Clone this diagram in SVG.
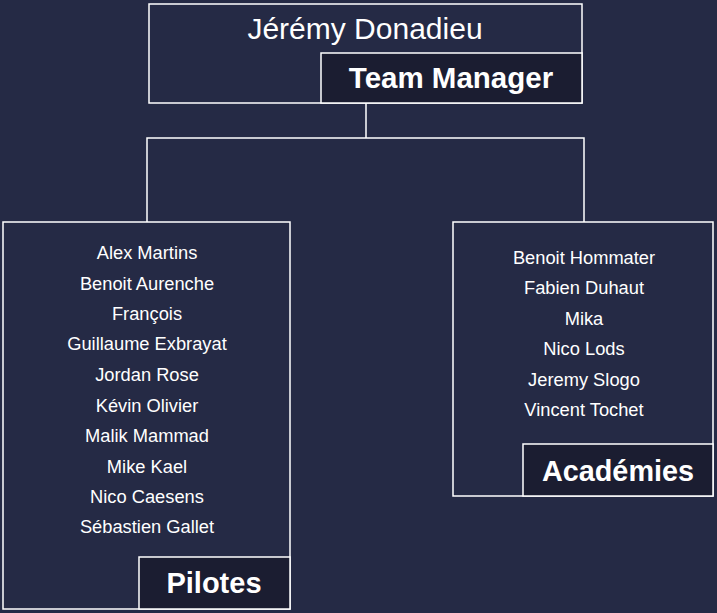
<svg xmlns="http://www.w3.org/2000/svg" width="717" height="613" viewBox="0 0 717 613">
<style>
.box{fill:#252a45;stroke:#ffffff;stroke-width:1.5}
.lab{fill:#1b1d31;stroke:#ffffff;stroke-width:1.5}
.conn{fill:none;stroke:#ffffff;stroke-width:1.5}
.name{font-family:"Liberation Sans",Arial,sans-serif;font-size:18.3px;fill:#ffffff;text-anchor:middle}
.title{font-family:"Liberation Sans",Arial,sans-serif;font-weight:bold;fill:#ffffff;text-anchor:middle}
</style>
<rect width="717" height="613" fill="#252a45"/>
<g id="connectors">
<path class="conn" d="M366,103 V138 M147,222 V138 H584 V222"/>
</g>
<g id="manager">
<rect class="box" x="149" y="4" width="433" height="99"/>
<text x="365" y="39" font-family="Liberation Sans,Arial,sans-serif" font-size="30" fill="#ffffff" text-anchor="middle">Jérémy Donadieu</text>
<rect class="lab" x="321" y="53" width="261" height="50"/>
<text class="title" x="451" y="88" font-size="29.5">Team Manager</text>
</g>
<g id="pilotes">
<rect class="box" x="3" y="222" width="287" height="387"/>
<text class="name" x="147" y="259">Alex Martins</text>
<text class="name" x="147" y="290">Benoit Aurenche</text>
<text class="name" x="147" y="320">François</text>
<text class="name" x="147" y="350">Guillaume Exbrayat</text>
<text class="name" x="147" y="381">Jordan Rose</text>
<text class="name" x="147" y="412">Kévin Olivier</text>
<text class="name" x="147" y="442">Malik Mammad</text>
<text class="name" x="147" y="473">Mike Kael</text>
<text class="name" x="147" y="503">Nico Caesens</text>
<text class="name" x="147" y="533">Sébastien Gallet</text>
<rect class="lab" x="139" y="557" width="151" height="52"/>
<text class="title" x="214" y="593" font-size="29">Pilotes</text>
</g>
<g id="academies">
<rect class="box" x="453" y="222" width="260" height="274"/>
<text class="name" x="584" y="264">Benoit Hommater</text>
<text class="name" x="584" y="294">Fabien Duhaut</text>
<text class="name" x="584" y="325">Mika</text>
<text class="name" x="584" y="355">Nico Lods</text>
<text class="name" x="584" y="386">Jeremy Slogo</text>
<text class="name" x="584" y="416">Vincent Tochet</text>
<rect class="lab" x="523" y="444" width="190" height="52"/>
<text class="title" x="618" y="481" font-size="28.8">Académies</text>
</g>
</svg>
